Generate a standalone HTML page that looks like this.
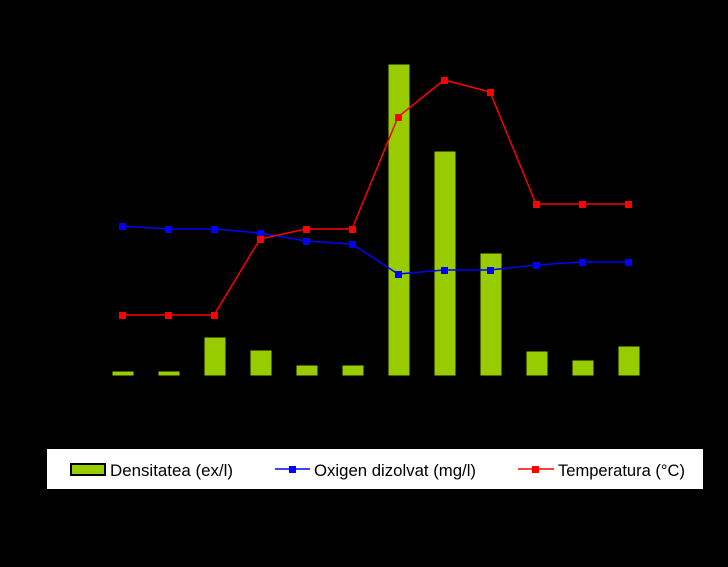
<!DOCTYPE html>
<html><head><style>body{margin:0;background:#000;}svg{display:block}</style></head>
<body>
<svg width="728" height="567" xmlns="http://www.w3.org/2000/svg">
<rect width="728" height="567" fill="#000"/>
<g fill="#99cc00" stroke="#000" stroke-width="1">
<rect x="112" y="371" width="22" height="5"/>
<rect x="158" y="371" width="22" height="5"/>
<rect x="204" y="337" width="22" height="39"/>
<rect x="250" y="350" width="22" height="26"/>
<rect x="296" y="365" width="22" height="11"/>
<rect x="342" y="365" width="22" height="11"/>
<rect x="388" y="64" width="22" height="312"/>
<rect x="434" y="151" width="22" height="225"/>
<rect x="480" y="253" width="22" height="123"/>
<rect x="526" y="351" width="22" height="25"/>
<rect x="572" y="360" width="22" height="16"/>
<rect x="618" y="346" width="22" height="30"/>
</g>
<polyline fill="none" stroke="#0000ff" stroke-width="1.5" points="122,226 168,229 214,229 260,233 306,241 352,244 398,274 444,270 490,270 536,265 582,262 628,262"/>
<g fill="#0000ff">
<rect x="119" y="223" width="7" height="7"/><rect x="165" y="226" width="7" height="7"/><rect x="211" y="226" width="7" height="7"/><rect x="257" y="230" width="7" height="7"/><rect x="303" y="238" width="7" height="7"/><rect x="349" y="241" width="7" height="7"/><rect x="395" y="271" width="7" height="7"/><rect x="441" y="267" width="7" height="7"/><rect x="487" y="267" width="7" height="7"/><rect x="533" y="262" width="7" height="7"/><rect x="579" y="259" width="7" height="7"/><rect x="625" y="259" width="7" height="7"/>
</g>
<polyline fill="none" stroke="#ff0000" stroke-width="1.5" points="122,315 168,315 214,315 260,239 306,229 352,229 398,117 444,80 490,92 536,204 582,204 628,204"/>
<g fill="#ff0000">
<rect x="119" y="312" width="7" height="7"/><rect x="165" y="312" width="7" height="7"/><rect x="211" y="312" width="7" height="7"/><rect x="257" y="236" width="7" height="7"/><rect x="303" y="226" width="7" height="7"/><rect x="349" y="226" width="7" height="7"/><rect x="395" y="114" width="7" height="7"/><rect x="441" y="77" width="7" height="7"/><rect x="487" y="89" width="7" height="7"/><rect x="533" y="201" width="7" height="7"/><rect x="579" y="201" width="7" height="7"/><rect x="625" y="201" width="7" height="7"/>
</g>
<rect x="47" y="449" width="656" height="40" fill="#fff"/>
<rect x="71" y="464" width="34" height="11" fill="#99cc00" stroke="#000" stroke-width="2"/>
<g font-family="Liberation Sans, sans-serif" font-size="17" fill="#000">
<text x="110" y="476" textLength="123" lengthAdjust="spacingAndGlyphs">Densitatea (ex/l)</text>
<text x="314" y="476" textLength="162" lengthAdjust="spacingAndGlyphs">Oxigen dizolvat (mg/l)</text>
<text x="558" y="476" textLength="127" lengthAdjust="spacingAndGlyphs">Temperatura (°C)</text>
</g>
<line x1="275" y1="469" x2="310" y2="469" stroke="#0000ff" stroke-width="1.5"/>
<rect x="289" y="466" width="7" height="7" fill="#0000ff"/>
<line x1="518" y1="469" x2="554" y2="469" stroke="#ff0000" stroke-width="1.5"/>
<rect x="532" y="466" width="7" height="7" fill="#ff0000"/>
</svg>
</body></html>
